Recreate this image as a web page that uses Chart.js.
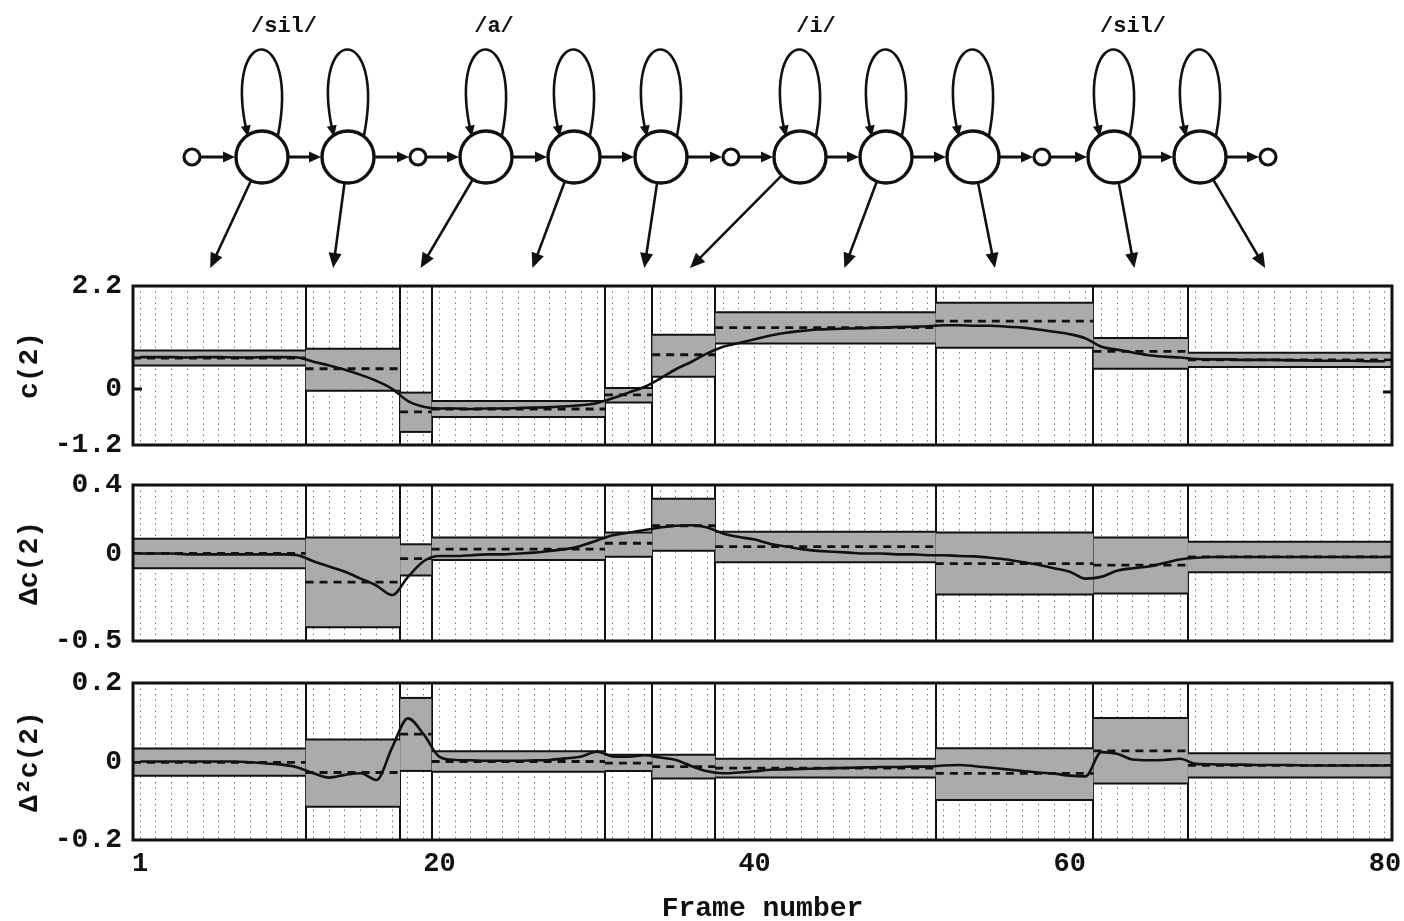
<!DOCTYPE html>
<html><head><meta charset="utf-8">
<script src="https://cdn.jsdelivr.net/npm/chart.js@4.4.0/dist/chart.umd.min.js"></script>
<style>
html,body{margin:0;padding:0;background:#fff;width:1404px;height:921px;overflow:hidden}
.p{position:absolute;left:0;width:1404px}
</style></head><body>
<div class="p" style="top:0;height:462px"><canvas id="c1"></canvas></div>
<div class="p" style="top:462px;height:190px"><canvas id="c2"></canvas></div>
<div class="p" style="top:652px;height:269px"><canvas id="c3"></canvas></div>
<script>
// ---------------- data ----------------
const phonemes = ['/sil/', '/a/', '/i/', '/sil/'];
const frames = Array.from({length: 80}, (_, i) => i + 1);
// state boundaries (frame numbers between segments)
const boundaries = [11.5, 17.5, 19.5, 30.5, 33.5, 37.5, 51.5, 61.5, 67.5];
// frame each emission arrow points to
const emissionFrame = [5.45, 13.25, 18.8, 25.9, 33.0, 35.9, 45.7, 55.25, 64.1, 72.4];

// c(2) trajectory
const c2 = [0.68,0.68,0.68,0.67,0.68,0.68,0.67,0.67,0.68,0.68,0.67,
  0.58,0.50,0.41,0.30,0.17,0.00,-0.26,-0.38,
  -0.42,-0.42,-0.43,-0.42,-0.42,-0.41,-0.40,-0.39,-0.37,-0.35,-0.30,
  -0.20,-0.08,0.04,
  0.22,0.42,0.58,0.76,
  0.90,0.98,1.06,1.14,1.20,1.24,1.27,1.28,1.29,1.30,1.31,1.32,1.33,1.34,
  1.36,1.36,1.35,1.35,1.33,1.31,1.27,1.22,1.17,1.08,
  0.90,0.84,0.78,0.72,0.69,0.67,
  0.64,0.63,0.63,0.62,0.62,0.62,0.61,0.61,0.60,0.60,0.60,0.59,0.59];
const c2Mean = [0.66, 0.43, -0.49, -0.43, -0.13, 0.73, 1.31, 1.45, 0.80, 0.62];
const c2Lo   = [0.50, -0.04, -0.92, -0.60, -0.29, 0.26, 0.97, 0.88, 0.43, 0.47];
const c2Hi   = [0.82, 0.86, -0.08, -0.26, 0.02, 1.16, 1.64, 1.84, 1.09, 0.77];
const c2Ticks = [-1.2, 0, 2.2];

// delta c(2)
const dc2 = [0.005,0.005,0.005,0.0,0.0,0.0,0.0,0.0,0.0,0.0,-0.005,
  -0.04,-0.07,-0.10,-0.14,-0.18,-0.235,-0.13,-0.04,
  -0.01,-0.01,-0.005,0.0,0.0,0.005,0.01,0.02,0.03,0.05,0.08,
  0.11,0.125,0.14,
  0.155,0.165,0.168,0.155,
  0.12,0.10,0.085,0.06,0.045,0.03,0.02,0.015,0.01,0.005,0.005,0.0,0.0,-0.005,
  -0.005,-0.01,-0.012,-0.02,-0.03,-0.045,-0.06,-0.08,-0.10,-0.14,
  -0.13,-0.095,-0.08,-0.07,-0.05,-0.03,
  -0.02,-0.015,-0.015,-0.015,-0.015,-0.015,-0.015,-0.015,-0.015,-0.015,-0.015,-0.015,-0.015];
const dc2Mean = [0.005, -0.16, -0.025, 0.03, 0.064, 0.165, 0.045, -0.054, -0.062, -0.015];
const dc2Lo   = [-0.08, -0.42, -0.122, -0.033, -0.014, 0.02, -0.045, -0.232, -0.226, -0.103];
const dc2Hi   = [0.09, 0.097, 0.058, 0.097, 0.126, 0.32, 0.13, 0.126, 0.097, 0.072];
const dc2Ticks = [-0.5, 0, 0.4];

// delta-delta c(2)
const ddc2 = [0.0,0.0,0.0,0.0,0.0,0.0,0.0,-0.002,-0.005,-0.008,-0.015,
  -0.03,-0.041,-0.034,-0.03,-0.047,0.036,0.11,0.069,
  0.012,0.004,0.003,0.002,0.002,0.002,0.003,0.004,0.008,0.013,0.025,
  0.013,0.012,0.016,
  0.01,0.004,-0.012,-0.025,
  -0.03,-0.028,-0.025,-0.021,-0.02,-0.019,-0.018,-0.017,-0.016,-0.015,-0.014,-0.014,-0.013,-0.013,
  -0.01,-0.009,-0.012,-0.016,-0.02,-0.024,-0.028,-0.031,-0.036,-0.038,
  0.024,0.02,0.005,0.003,0.004,0.007,
  -0.006,-0.007,-0.008,-0.008,-0.009,-0.009,-0.009,-0.01,-0.01,-0.01,-0.01,-0.01,-0.01];
const ddc2Mean = [-0.002, -0.028, 0.07, 0.0, -0.004, -0.013, -0.017, -0.03, 0.027, -0.01];
const ddc2Lo   = [-0.036, -0.115, -0.024, -0.026, -0.024, -0.043, -0.041, -0.098, -0.056, -0.041];
const ddc2Hi   = [0.033, 0.056, 0.162, 0.026, 0.017, 0.017, 0.007, 0.034, 0.111, 0.021];
const ddc2Ticks = [-0.2, 0, 0.2];

const xTickLabels = [1, 20, 40, 60, 80];

// ---------------- style ----------------
const XMIN = 0.55, XMAX = 80.45;
const INK = '#111';
const BAND = '#ababab';
const MONO = '"Liberation Mono", "DejaVu Sans Mono", monospace';

Chart.defaults.animation = false;

function buildDatasets(traj, mean, lo, hi) {
  const edges = [XMIN, ...boundaries, XMAX];
  const ds = [];
  ds.push({ data: frames.map((f, i) => ({x: f, y: traj[i]})), borderColor: INK, borderWidth: 2.6,
    pointRadius: 0, fill: false, cubicInterpolationMode: 'monotone', order: 0 });
  for (let i = 0; i < mean.length; i++) {
    const s = edges[i], e = edges[i + 1];
    ds.push({ data: [{x: s, y: mean[i]}, {x: e, y: mean[i]}], borderColor: INK, borderWidth: 2.8,
      borderDash: [8, 6], pointRadius: 0, fill: false, order: 1 });
  }
  for (let i = 0; i < mean.length; i++) {
    const s = edges[i], e = edges[i + 1];
    ds.push({ data: [{x: s, y: hi[i]}, {x: e, y: hi[i]}], borderColor: INK, borderWidth: 2,
      pointRadius: 0, fill: false, order: 2 });
    ds.push({ data: [{x: s, y: lo[i]}, {x: e, y: lo[i]}], borderColor: INK, borderWidth: 2,
      pointRadius: 0, fill: '-1', backgroundColor: BAND, order: 2 });
  }
  return ds;
}

function noPad(s) { s.paddingLeft = 0; s.paddingRight = 0; s.paddingTop = 0; s.paddingBottom = 0; }

function xAxes(withLabels) {
  const sc = {
    x: { type: 'linear', min: XMIN, max: XMAX, position: 'bottom', z: 1,
      afterBuildTicks: s => { s.ticks = boundaries.map(v => ({value: v})); },
      grid: { color: INK, lineWidth: 2, drawTicks: false },
      border: { display: false }, ticks: { display: false },
      afterFit: s => { s.height = 0; noPad(s); } },
    xg: { type: 'linear', min: XMIN, max: XMAX, position: 'bottom', z: 1,
      afterBuildTicks: s => { s.ticks = frames.map(v => ({value: v})); },
      grid: { color: '#7a7a7a', lineWidth: 1, drawTicks: false },
      border: { display: false, dash: [1.5, 4] }, ticks: { display: false },
      afterFit: s => { s.height = 0; noPad(s); } }
  };
  if (withLabels) {
    sc.xl = { type: 'linear', min: XMIN, max: XMAX, position: 'bottom',
      afterBuildTicks: s => { s.ticks = xTickLabels.map(v => ({value: v})); },
      grid: { display: false, drawTicks: false }, border: { display: false },
      ticks: { autoSkip: false, maxRotation: 0, padding: 8, color: INK,
        font: { family: MONO, weight: 'bold', size: 27 } },
      title: { display: true, text: 'Frame number', color: INK,
        font: { family: MONO, weight: 'bold', size: 28, lineHeight: 1 }, padding: { top: 0, bottom: -2 } },
      afterFit: s => { s.height = 81; noPad(s); } };
  }
  return sc;
}

function yAxis(min, max, ticks, title) {
  return { type: 'linear', min, max,
    afterBuildTicks: s => { s.ticks = ticks.map(v => ({value: v})); },
    grid: { display: false, drawTicks: false }, border: { display: false },
    ticks: { color: INK, padding: 11, font: { family: MONO, weight: 'bold', size: 28 },
      callback: v => String(v) },
    title: { display: true, text: title, color: INK,
      font: { family: MONO, weight: 'bold', size: 28, lineHeight: 1 }, padding: { top: 16, bottom: 0 } },
    afterFit: s => { s.width = 133; noPad(s); } };
}

const frameBox = {
  id: 'frameBox',
  afterDraw(chart, args, opts) {
    const {ctx, chartArea: a} = chart;
    ctx.save();
    ctx.strokeStyle = INK; ctx.lineWidth = 3;
    ctx.strokeRect(a.left, a.top, a.right - a.left, a.bottom - a.top);
    if (opts && opts.zeroTicks) {
      const y0 = chart.scales.y.getPixelForValue(0);
      ctx.lineWidth = 3;
      ctx.beginPath();
      ctx.moveTo(a.left, y0); ctx.lineTo(a.left + 9, y0);
      ctx.moveTo(a.right - 9, y0 + 3); ctx.lineTo(a.right, y0 + 3);
      ctx.stroke();
    }
    ctx.restore();
  }
};

function arrowHead(ctx, x, y, ang, len, half) {
  const c = Math.cos(ang), s = Math.sin(ang);
  ctx.beginPath();
  ctx.moveTo(x, y);
  ctx.lineTo(x - len * c + half * s, y - len * s - half * c);
  ctx.lineTo(x - len * c - half * s, y - len * s + half * c);
  ctx.closePath();
  ctx.fill();
}

// HMM diagram (decoration, pixel layout)
const diagram = {
  id: 'hmm',
  afterDraw(chart) {
    const ctx = chart.ctx, xs = chart.scales.x;
    const CY = 157, R = 26, r = 8, TIPY = 268;
    const stateX = [262, 348, 486, 574, 661, 800, 886, 973, 1114, 1200];
    const nullX = [192, 418, 731, 1042, 1268];
    const labelX = [284, 494, 816, 1133];
    const nodes = [...stateX.map(x => ({x, r: R})), ...nullX.map(x => ({x, r}))].sort((a, b) => a.x - b.x);
    ctx.save();
    ctx.strokeStyle = INK; ctx.fillStyle = INK; ctx.lineCap = 'round';
    // labels
    ctx.font = 'bold 22px ' + MONO; ctx.textAlign = 'center'; ctx.textBaseline = 'middle';
    phonemes.forEach((p, i) => ctx.fillText(p, labelX[i], 26));
    // horizontal arrows
    ctx.lineWidth = 3;
    for (let i = 0; i < nodes.length - 1; i++) {
      const x0 = nodes[i].x + nodes[i].r + 1, x1 = nodes[i + 1].x - nodes[i + 1].r - 1;
      ctx.beginPath(); ctx.moveTo(x0, CY); ctx.lineTo(x1 - 8, CY); ctx.stroke();
      arrowHead(ctx, x1, CY, 0, 12, 5.5);
    }
    // circles
    nodes.forEach(n => {
      ctx.lineWidth = n.r === R ? 3.4 : 3.2;
      ctx.beginPath(); ctx.arc(n.x, CY, n.r, 0, Math.PI * 2);
      ctx.fillStyle = '#fff'; ctx.fill(); ctx.stroke();
    });
    ctx.fillStyle = INK;
    // self loops (oval above each state)
    ctx.lineWidth = 2.6;
    stateX.forEach(cx => {
      const leg = 16;
      const py = CY - Math.sqrt(R * R - leg * leg) - 1;
      ctx.beginPath();
      ctx.moveTo(cx - leg, py - 7);
      ctx.bezierCurveTo(cx - 38, 22, cx + 38, 22, cx + leg, py);
      ctx.stroke();
      const ang = Math.atan2(py - 7 - 22, (cx - leg) - (cx - 38));
      arrowHead(ctx, cx - leg + 2, py + 1, ang, 11, 5);
    });
    // emission arrows
    ctx.lineWidth = 2.6;
    stateX.forEach((cx, i) => {
      const tx = xs.getPixelForValue(emissionFrame[i]), ty = TIPY;
      const ang = Math.atan2(ty - CY, tx - cx);
      const sx = cx + (R + 1) * Math.cos(ang), sy = CY + (R + 1) * Math.sin(ang);
      ctx.beginPath(); ctx.moveTo(sx, sy);
      ctx.lineTo(tx - 10 * Math.cos(ang), ty - 10 * Math.sin(ang)); ctx.stroke();
      arrowHead(ctx, tx, ty, ang, 15, 6.5);
    });
    ctx.restore();
  }
};

function makeChart(id, traj, mean, lo, hi, yMin, yMax, yTicks, yTitle, pad, withLabels, extraPlugins, zeroTicks) {
  return new Chart(document.getElementById(id), {
    type: 'line',
    data: { datasets: buildDatasets(traj, mean, lo, hi) },
    options: {
      responsive: true, maintainAspectRatio: false, animation: false,
      layout: { padding: pad },
      plugins: { legend: { display: false }, tooltip: { enabled: false }, title: { display: false },
        frameBox: { zeroTicks } },
      scales: Object.assign(xAxes(withLabels), { y: yAxis(yMin, yMax, yTicks, yTitle) })
    },
    plugins: [frameBox, ...extraPlugins]
  });
}

makeChart('c1', c2, c2Mean, c2Lo, c2Hi, -1.2, 2.2, c2Ticks, 'c(2)',
  { top: 286, bottom: 17, left: 0, right: 12 }, false, [diagram], true);
makeChart('c2', dc2, dc2Mean, dc2Lo, dc2Hi, -0.5, 0.4, dc2Ticks, 'Δc(2)',
  { top: 23, bottom: 11, left: 0, right: 12 }, false, [], false);
makeChart('c3', ddc2, ddc2Mean, ddc2Lo, ddc2Hi, -0.2, 0.2, ddc2Ticks, 'Δ²c(2)',
  { top: 31, bottom: 0, left: 0, right: 12 }, true, [], false);
</script>
</body></html>
